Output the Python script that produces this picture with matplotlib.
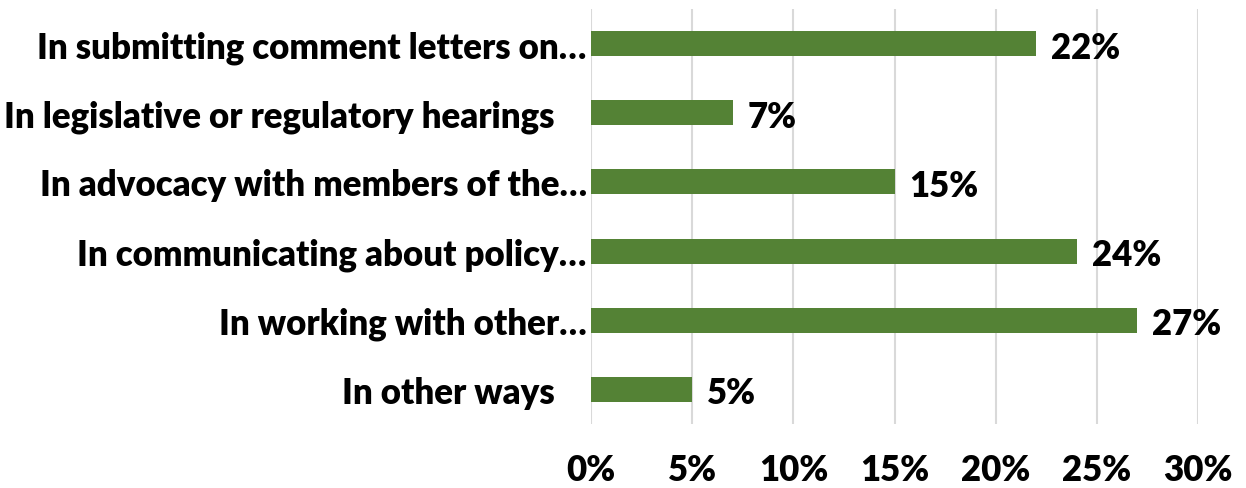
import matplotlib
matplotlib.use("Agg")
import matplotlib.pyplot as plt
from matplotlib.ticker import FuncFormatter

categories = [
    "In submitting comment letters on…",
    "In legislative or regulatory hearings    ",
    "In advocacy with members of the…",
    "In communicating about policy…",
    "In working with other…",
    "In other ways    ",
]
values = [22, 7, 15, 24, 27, 5]
xticks = [0, 5, 10, 15, 20, 25, 30]

bar_color = "#548235"
font = ["Lato", "DejaVu Sans"]
fs = 25
fw = "heavy"

fig = plt.figure(figsize=(12.46, 4.89), dpi=100)
ax = fig.add_axes([591/1246, 1-425/489, (1198-591)/1246, 415/489])

ypos = list(range(len(categories)))
ax.barh(ypos, values, height=0.36, color=bar_color, zorder=3)
ax.set_ylim(len(categories)-0.5, -0.5)
ax.set_xlim(0, 30)
ax.set_xticks(xticks)
ax.xaxis.set_major_formatter(FuncFormatter(lambda v, p: f"{int(v)}%"))
ax.grid(axis="x", color="#d9d9d9", linewidth=1.5, zorder=0)
for s in ax.spines.values():
    s.set_visible(False)
ax.tick_params(axis="both", length=0)
ax.tick_params(axis="x", pad=21)
ax.tick_params(axis="y", pad=3)
ax.set_yticks(ypos)
ax.set_yticklabels(categories, fontfamily=font, fontweight=fw, fontsize=fs)
for lbl in ax.get_xticklabels():
    lbl.set_fontfamily(font)
    lbl.set_fontweight(fw)
    lbl.set_fontsize(fs)

for y, v in zip(ypos, values):
    ax.text(v + 0.75, y + 0.05, f"{v}%", va="center", ha="left",
            fontfamily=font, fontweight=fw, fontsize=fs)

fig.savefig("out.png", dpi=100)
